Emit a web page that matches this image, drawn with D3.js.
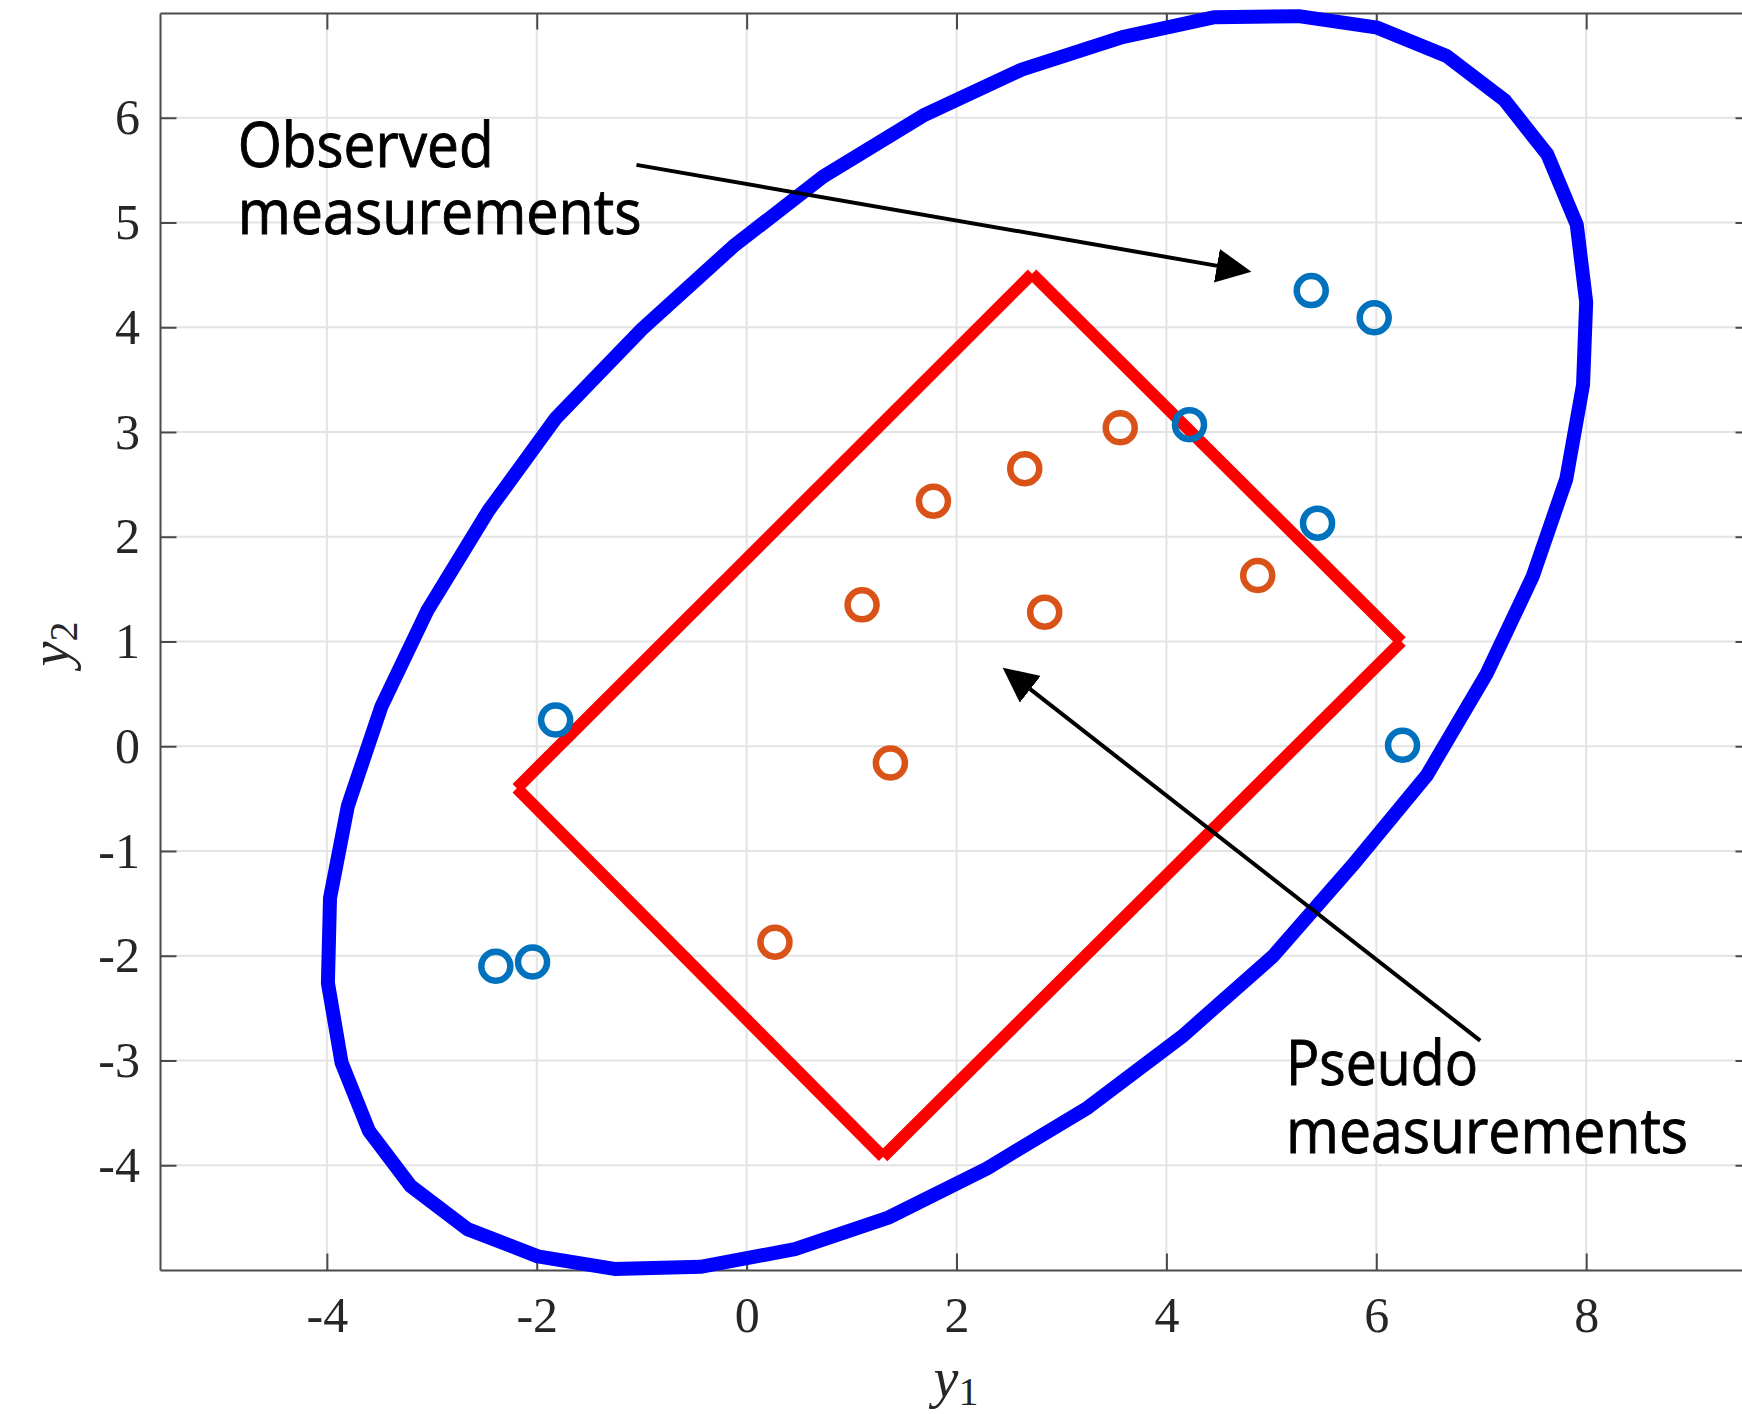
<!DOCTYPE html>
<html>
<head>
<meta charset="utf-8">
<script src="https://cdn.jsdelivr.net/npm/d3@7"></script>
<style>
  body { margin: 0; background: #fff; }
  .tick text { font-family: "Liberation Serif", "DejaVu Serif", serif; fill: #262626; }
</style>
</head>
<body>
<div id="chart"></div>
<script>
// ticks
const xTicks = [-4, -2, 0, 2, 4, 6, 8];
const yTicks = [-4, -3, -2, -1, 0, 1, 2, 3, 4, 5, 6];

// confidence ellipse (polygon vertices)
const ellipseX = [5.26, 6.01, 6.67, 7.22, 7.63, 7.91, 8.00, 7.97, 7.81, 7.49, 7.05, 6.48, 5.77, 5.02, 4.15, 3.25, 2.29, 1.35, 0.46, -0.44,
                  -1.26, -1.99, -2.66, -3.20, -3.60, -3.86, -3.99, -3.97, -3.80, -3.48, -3.04, -2.46, -1.82, -1.00, -0.13, 0.73, 1.70, 2.62, 3.58, 4.46];
const ellipseY = [6.97, 6.86, 6.59, 6.17, 5.65, 4.98, 4.24, 3.45, 2.55, 1.62, 0.69, -0.28, -1.14, -2.00, -2.77, -3.45, -4.03, -4.50, -4.80, -4.97,
                  -4.99, -4.87, -4.61, -4.20, -3.67, -3.02, -2.26, -1.45, -0.57, 0.38, 1.30, 2.25, 3.13, 3.98, 4.77, 5.44, 6.03, 6.46, 6.77, 6.96];

// rotated box corners
const boxX = [2.72, 6.24, 1.30, -2.19];
const boxY = [4.51, 1.00, -3.92, -0.40];

// measurements
const observedX = [5.38, 5.98, 4.22, 5.44, 6.25, -1.82, -2.39, -2.04];
const observedY = [4.35, 4.09, 3.07, 2.13, 0.01, 0.25, -2.10, -2.06];
const pseudoX = [3.56, 2.65, 1.78, 4.87, 1.10, 2.84, 1.37, 0.27];
const pseudoY = [3.04, 2.65, 2.34, 1.63, 1.35, 1.28, -0.16, -1.87];

// annotations (data units)
const notes = [
  { lines: ['Observed', 'measurements'], x: -4.85, y: [5.53, 4.89], widths: [256, 404],
    from: [-1.05, 5.55], to: [4.81, 4.53] },
  { lines: ['Pseudo', 'measurements'], x: 5.14, y: [-3.23, -3.88], widths: [192, 402],
    from: [6.99, -2.81], to: [2.44, 0.75] }
];

const w = 1742, h = 1414;
const padL = 160, padR = 1752, padT = 13, padB = 1270;

const svg = d3.select('#chart').append('svg')
  .attr('width', w).attr('height', h);

svg.append('defs').append('marker')
  .attr('id', 'head')
  .attr('viewBox', '0 0 35 34')
  .attr('refX', 5).attr('refY', 17)
  .attr('markerWidth', 35).attr('markerHeight', 34)
  .attr('markerUnits', 'userSpaceOnUse')
  .attr('orient', 'auto')
  .append('path').attr('d', 'M0,0 L35,17 L0,34 Z').attr('fill', '#000');

const x = d3.scaleLinear().domain([-5.59, 9.58]).range([padL, padR]);
const y = d3.scaleLinear().domain([-5, 7]).range([padB, padT]);

// grid
svg.append('g').selectAll('line').data(xTicks).enter().append('line')
  .attr('x1', d => x(d)).attr('x2', d => x(d))
  .attr('y1', padT).attr('y2', padB)
  .attr('stroke', '#e3e3e3').attr('stroke-width', 2);
svg.append('g').selectAll('line').data(yTicks).enter().append('line')
  .attr('x1', padL).attr('x2', padR)
  .attr('y1', d => y(d)).attr('y2', d => y(d))
  .attr('stroke', '#e3e3e3').attr('stroke-width', 2);

// axes, ticks pointing inward
const tl = 16.5;
svg.append('g').attr('transform', `translate(0,${padB})`)
  .call(d3.axisBottom(x).tickValues(xTicks).tickSize(-tl).tickSizeOuter(0).tickPadding(26).tickFormat(d => d));
svg.append('g').attr('transform', `translate(${padL},0)`)
  .call(d3.axisLeft(y).tickValues(yTicks).tickSize(-tl).tickSizeOuter(0).tickPadding(20).tickFormat(d => d));
svg.append('g').attr('transform', `translate(0,${padT})`)
  .call(d3.axisTop(x).tickValues(xTicks).tickSize(-tl).tickSizeOuter(0).tickFormat(''));
svg.append('g').attr('transform', `translate(${padR},0)`)
  .call(d3.axisRight(y).tickValues(yTicks).tickSize(-tl).tickSizeOuter(0).tickFormat(''));

svg.selectAll('.domain').attr('stroke', '#4a4a4a').attr('stroke-width', 2);
svg.selectAll('.tick line').attr('stroke', '#4a4a4a').attr('stroke-width', 2);
svg.selectAll('.tick text').attr('font-size', 50).attr('fill', '#262626');

// axis labels
const xl = svg.append('text')
  .attr('x', 956).attr('y', 1397)
  .attr('text-anchor', 'middle')
  .attr('font-family', '"Liberation Serif", serif')
  .attr('fill', '#262626');
xl.append('tspan').attr('font-style', 'italic').attr('font-size', 56).text('y');
xl.append('tspan').attr('font-size', 40).attr('dy', 8).text('1');

const yl = svg.append('text')
  .attr('transform', 'translate(69,644) rotate(-90)')
  .attr('text-anchor', 'middle')
  .attr('font-family', '"Liberation Serif", serif')
  .attr('fill', '#262626');
yl.append('tspan').attr('font-style', 'italic').attr('font-size', 56).text('y');
yl.append('tspan').attr('font-size', 40).attr('dy', 8).text('2');

// ellipse
const ellipsePts = ellipseX.map((v, i) => [v, ellipseY[i]]);
svg.append('path')
  .attr('d', d3.line().x(d => x(d[0])).y(d => y(d[1])).curve(d3.curveLinearClosed)(ellipsePts))
  .attr('fill', 'none')
  .attr('stroke', '#0000ff')
  .attr('stroke-width', 14)
  .attr('stroke-linejoin', 'round');

// box, each side its own segment (butt ends leave the notched corners)
const boxSides = boxX.map((v, i) => {
  const j = (i + 1) % boxX.length;
  return [[v, boxY[i]], [boxX[j], boxY[j]]];
});
svg.append('g').selectAll('line').data(boxSides).enter().append('line')
  .attr('x1', d => x(d[0][0])).attr('y1', d => y(d[0][1]))
  .attr('x2', d => x(d[1][0])).attr('y2', d => y(d[1][1]))
  .attr('stroke', '#ff0000')
  .attr('stroke-width', 12)
  .attr('stroke-linecap', 'butt');

// markers
function rings(xs, ys, color) {
  svg.append('g').selectAll('circle').data(xs).enter().append('circle')
    .attr('cx', d => x(d))
    .attr('cy', (d, i) => y(ys[i]))
    .attr('r', 14.5)
    .attr('fill', 'none')
    .attr('stroke', color)
    .attr('stroke-width', 6.5);
}
rings(pseudoX, pseudoY, '#D95319');
rings(observedX, observedY, '#0072BD');

// annotations
notes.forEach(n => {
  const x0 = x(n.from[0]), y0 = y(n.from[1]);
  const x1 = x(n.to[0]), y1 = y(n.to[1]);
  const len = Math.hypot(x1 - x0, y1 - y0);
  const ux = (x1 - x0) / len, uy = (y1 - y0) / len;
  svg.append('line')
    .attr('x1', x0).attr('y1', y0)
    .attr('x2', x1 - 30 * ux).attr('y2', y1 - 30 * uy)
    .attr('stroke', '#000').attr('stroke-width', 4)
    .attr('marker-end', 'url(#head)');

  const label = svg.append('text')
    .attr('font-family', '"Open Sans", sans-serif')
    .attr('font-size', 62)
    .attr('fill', '#000')
    .attr('stroke', '#000')
    .attr('stroke-width', 0.9);
  n.lines.forEach((t, i) => {
    label.append('tspan')
      .attr('x', x(n.x)).attr('y', y(n.y[i]))
      .attr('textLength', n.widths[i])
      .attr('lengthAdjust', 'spacingAndGlyphs')
      .text(t);
  });
});
</script>
</body>
</html>
